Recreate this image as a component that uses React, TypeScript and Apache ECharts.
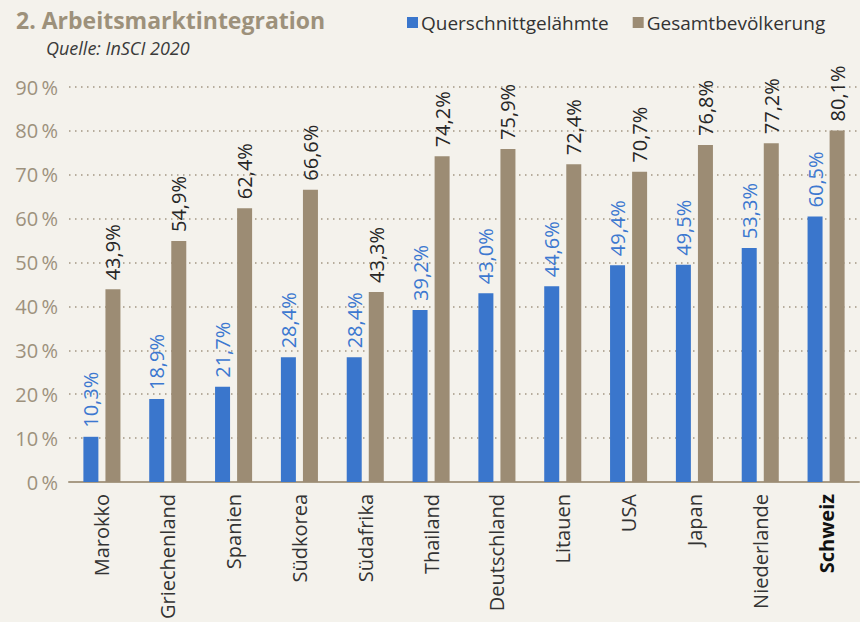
import React, { useEffect, useRef } from "react";
import * as echarts from "echarts";

const categories = [
  "Marokko", "Griechenland", "Spanien", "Südkorea", "Südafrika", "Thailand",
  "Deutschland", "Litauen", "USA", "Japan", "Niederlande", "Schweiz",
];
const querschnitt = [10.3, 18.9, 21.7, 28.4, 28.4, 39.2, 43.0, 44.6, 49.4, 49.5, 53.3, 60.5];
const gesamt = [43.9, 54.9, 62.4, 66.6, 43.3, 74.2, 75.9, 72.4, 70.7, 76.8, 77.2, 80.1];
const seriesNames = ["Querschnittgelähmte", "Gesamtbevölkerung"];
const titleText = "2. Arbeitsmarktintegration";
const subtitleText = "Quelle: InSCI 2020";
const highlightCategory = "Schweiz";

const FONT = "Open Sans";
const BLUE = "#3a76cc";
const BROWN = "#9c8c74";

const fmtPct = (v: number) => v.toFixed(1).replace(".", ",") + "%";

export default function App() {
  const ref = useRef<HTMLDivElement>(null);
  useEffect(() => {
    if (!ref.current) return;
    const chart = echarts.init(ref.current, null, { renderer: "svg" });
    chart.setOption({
      animation: false,
      backgroundColor: "#f4f2ec",
      textStyle: { fontFamily: FONT },
      title: [
        {
          text: titleText,
          left: 11,
          top: 3,
          textStyle: { fontFamily: FONT, fontSize: 23, fontWeight: "bold", color: "#9d917b" },
        },
        {
          text: subtitleText,
          left: 41,
          top: 34,
          textStyle: { fontFamily: FONT, fontSize: 18, fontStyle: "italic", fontWeight: "normal", color: "#3a3a3a" },
        },
      ],
      legend: {
        left: 402,
        top: 8,
        itemWidth: 11,
        itemHeight: 11,
        itemGap: 24,
        icon: "rect",
        textStyle: { fontFamily: FONT, fontSize: 19, color: "#333", padding: [0, 0, 0, -2] },
        data: seriesNames,
      },
      grid: { left: 69, right: 1, top: 87, bottom: 138, containLabel: false },
      xAxis: {
        type: "category",
        data: categories,
        axisLine: { show: true, lineStyle: { color: "#a89b85", width: 2 } },
        axisTick: { show: false },
        axisLabel: {
          rotate: 90,
          margin: 12,
          interval: 0,
          formatter: (v: string) => (v === highlightCategory ? `{b|${v}}` : `{n|${v}}`),
          rich: {
            n: { fontFamily: FONT, fontSize: 20, color: "#333" },
            b: { fontFamily: FONT, fontSize: 20, fontWeight: "bold", color: "#111" },
          },
        },
      },
      yAxis: {
        type: "value",
        min: 0,
        max: 90,
        interval: 10,
        axisLine: { show: false },
        axisTick: { show: false },
        axisLabel: {
          formatter: (v: number) => `${v}\u2009%`,
          fontFamily: FONT,
          fontSize: 20,
          color: "#9d917d",
          margin: 11,
        },
        splitLine: { show: true, lineStyle: { type: [1.5, 4.5], color: "#a39682", width: 1.5 } },
      },
      series: [
        {
          name: seriesNames[0],
          type: "bar",
          data: querschnitt,
          barWidth: 15,
          barGap: "47%",
          itemStyle: { color: BLUE },
          label: {
            show: true,
            position: "top",
            rotate: 90,
            align: "left",
            verticalAlign: "middle",
            distance: 9,
            fontFamily: FONT,
            fontSize: 20,
            color: "#3c78d0",
            formatter: (p: any) => fmtPct(p.value),
          },
        },
        {
          name: seriesNames[1],
          type: "bar",
          data: gesamt,
          barWidth: 15,
          itemStyle: { color: BROWN },
          label: {
            show: true,
            position: "top",
            rotate: 90,
            align: "left",
            verticalAlign: "middle",
            distance: 9,
            fontFamily: FONT,
            fontSize: 20,
            color: "#262626",
            formatter: (p: any) => fmtPct(p.value),
          },
        },
      ],
    });
    return () => chart.dispose();
  }, []);
  return (
    <div
      ref={ref}
      style={{ position: "fixed", left: 0, top: 0, width: 860, height: 622 }}
    />
  );
}
